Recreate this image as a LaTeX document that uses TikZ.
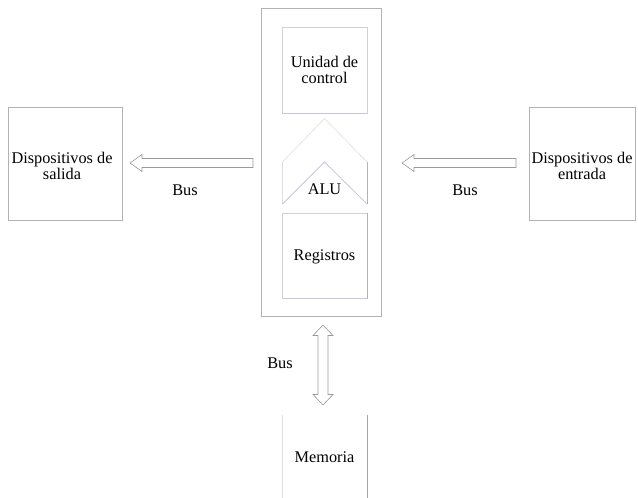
\documentclass[tikz,border=0pt]{standalone}
\usepackage{fontspec}
\setmainfont{Liberation Serif}
\begin{document}
\begin{tikzpicture}[x=1pt,y=-1pt,
  box/.style={draw=gray!60,line width=0.7pt,fill=white},
  faint/.style={draw=gray!25,line width=0.6pt},
  bluish/.style={draw=blue!25!gray!35,line width=0.8pt},
  blockarrow/.style={draw=gray!80,line width=0.6pt,fill=white,line join=miter},
  lbl/.style={font=\fontsize{16.3}{16.8}\selectfont,align=center,inner sep=0pt}]
\useasboundingbox (0,0) rectangle (638,498);
% CPU outer box
\draw[box] (261.5,8.5) rectangle (381.5,316);
% Unidad de control
\draw[box,draw=gray!35] (282.5,27) rectangle (367,113);
\draw[bluish] (282.5,113) -- (367,113);
\node[lbl] (uc) at (324.5,70) {Unidad de\\control};
% ALU shape
\draw[faint] (282.5,204) -- (282.5,162) -- (324.5,118.5) -- (367,162);
\draw[draw=gray!60,line width=0.7pt] (367,162) -- (367,204);
\draw[bluish] (282.5,204) -- (324.5,162) -- (367,204);
\node[lbl] (alu) at (324.5,189) {ALU};
% Registros
\draw[box,draw=gray!35] (282.5,213) rectangle (367,298.5);
\draw[draw=gray!60,line width=0.7pt] (367,213) -- (367,298.5);
\draw[bluish] (282.5,298.5) -- (367,298.5);
\node[lbl] (reg) at (324.5,257) {Registros};
% Dispositivos de salida
\draw[box] (8,107) rectangle (122,220);
\node[lbl] (sal) at (62,166) {Dispositivos de\\salida};
% Dispositivos de entrada
\draw[box] (529,107) rectangle (635,220);
\node[lbl] (ent) at (582,166) {Dispositivos de\\entrada};
% Memoria
\draw[faint] (282.5,415) -- (282.5,498);
\draw[draw=gray!70,line width=0.8pt] (367,415) -- (367,498);
\node[lbl] (mem) at (324.5,457) {Memoria};
% block arrows
\coordinate (lt) at (130,163);
\draw[blockarrow] (lt) -- (142,154.5) -- (142,158.5) -- (253,158.5) -- (253,167.5) -- (142,167.5) -- (142,171.5) -- cycle;
\coordinate (rt) at (402,163);
\draw[blockarrow] (rt) -- (414,154.5) -- (414,158.5) -- (516,158.5) -- (516,167.5) -- (414,167.5) -- (414,171.5) -- cycle;
\coordinate (vt) at (323,325);
\draw[blockarrow] (vt) -- (333,335.5) -- (328,335.5) -- (328,394.5) -- (333,394.5) -- (323,405) -- (313,394.5) -- (318,394.5) -- (318,335.5) -- (313,335.5) -- cycle;
% labels
\node[lbl] (b1) at (185,190) {Bus};
\node[lbl] (b2) at (465,190) {Bus};
\node[lbl] (b3) at (280,363) {Bus};
\end{tikzpicture}
\end{document}
